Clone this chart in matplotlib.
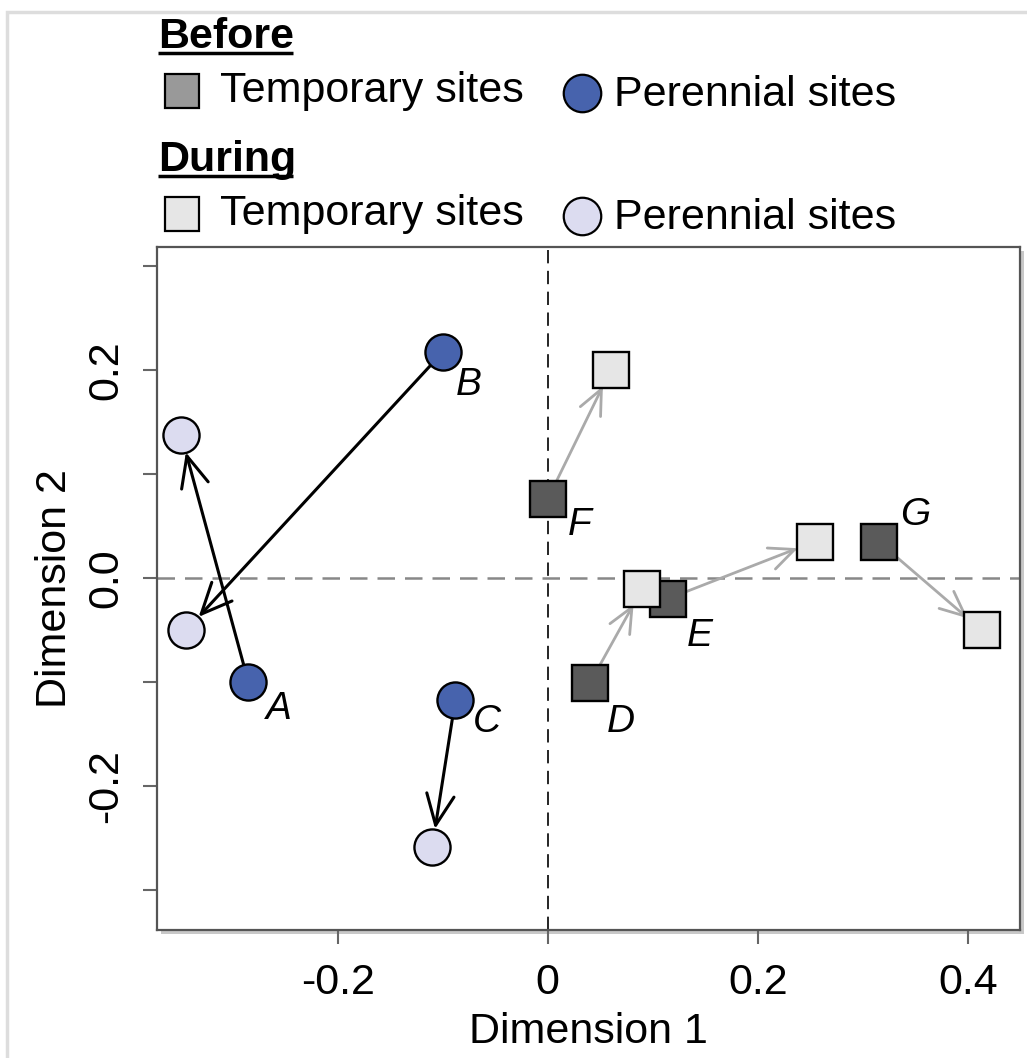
import matplotlib
matplotlib.use("Agg")
import matplotlib.pyplot as plt
from matplotlib.patches import Rectangle

plt.rcParams["font.family"] = ["Liberation Sans", "DejaVu Sans"]

sites = ["A", "B", "C", "D", "E", "F", "G"]
site_type = ["perennial", "perennial", "perennial",
             "temporary", "temporary", "temporary", "temporary"]
before_x = [-0.285, -0.100, -0.088, 0.040, 0.114, 0.000, 0.315]
before_y = [-0.100, 0.217, -0.117, -0.101, -0.020, 0.076, 0.035]
during_x = [-0.349, -0.344, -0.110, 0.090, 0.254, 0.060, 0.413]
during_y = [0.1375, -0.050, -0.258, -0.010, 0.035, 0.200, -0.050]

# label offsets (points) from the "before" marker
label_dx = [22, 19, 23, 22, 23, 23, 26]
label_dy = [-19, -24, -16, -28, -27, -19, 19]

col_before = {"perennial": "#4763ad", "temporary": "#5a5a5a"}
col_during = {"perennial": "#dcdcf0", "temporary": "#e6e6e6"}
col_arrow = {"perennial": "black", "temporary": "#aaaaaa"}
shape = {"perennial": "o", "temporary": "s"}

W, H = 1027, 1058
fig = plt.figure(figsize=(W / 100, H / 100), dpi=100)

# faint outer frame
fig.patches.append(Rectangle((7 / W, -0.05), 1.2, (H - 12) / H + 0.05,
                             transform=fig.transFigure, fill=False,
                             edgecolor="#dddddd", linewidth=2.5, zorder=-2))

# drop shadow of the plot box
fig.patches.append(Rectangle((161 / W, (H - 934) / H), (1024 - 161) / W, (934 - 251) / H,
                             transform=fig.transFigure, facecolor="#c8c8c8",
                             edgecolor="none", zorder=-1))

ax = fig.add_axes([157 / W, (H - 930) / H, (1020 - 157) / W, (930 - 247) / H])
ax.set_facecolor("white")
ax.set_xlim(-0.372, 0.4495)
ax.set_ylim(-0.338, 0.318)

ax.axvline(0, color="black", linestyle=(0, (8, 4.5)), linewidth=1.2, zorder=1)
ax.axhline(0, color="#888888", linestyle=(0, (7, 4)), linewidth=1.8, zorder=1)

for i in range(len(sites)):
    t = site_type[i]
    ms = 18 if t == "temporary" else 22
    ax.annotate("", xy=(during_x[i], during_y[i]), xytext=(before_x[i], before_y[i]),
                arrowprops=dict(arrowstyle="->,head_length=1.0,head_width=0.45",
                                mutation_scale=ms, color=col_arrow[t],
                                linewidth=2.0 if t == "temporary" else 2.2,
                                shrinkA=12, shrinkB=13),
                zorder=2)

for i in range(len(sites)):
    t = site_type[i]
    ax.plot(before_x[i], before_y[i], marker=shape[t], markersize=26,
            markerfacecolor=col_before[t], markeredgecolor="black",
            markeredgewidth=1.7, linestyle="none", zorder=3)
for i in range(len(sites)):
    t = site_type[i]
    ax.plot(during_x[i], during_y[i], marker=shape[t], markersize=26,
            markerfacecolor=col_during[t], markeredgecolor="black",
            markeredgewidth=1.7, linestyle="none", zorder=4)

for i in range(len(sites)):
    ax.annotate(sites[i], xy=(before_x[i], before_y[i]),
                xytext=(label_dx[i], label_dy[i]), textcoords="offset points",
                ha="center", va="center", fontsize=28, style="italic", zorder=5)

ax.set_xticks([-0.2, 0, 0.2, 0.4])
ax.set_xticklabels(["-0.2", "0", "0.2", "0.4"])
ax.set_yticks([-0.3, -0.2, -0.1, 0.0, 0.1, 0.2, 0.3])
ax.set_yticklabels(["", "-0.2", "", "0.0", "", "0.2", ""])
ax.tick_params(axis="x", length=10, width=1.5, color="#666666",
               labelsize=31, pad=14)
ax.tick_params(axis="y", length=10, width=1.5, color="#666666",
               labelsize=31, pad=12)
for lab in ax.get_yticklabels():
    lab.set_rotation(90)
    lab.set_va("center")
for sp in ax.spines.values():
    sp.set_color("#555555")
    sp.set_linewidth(1.6)

ax.set_xlabel("Dimension 1", fontsize=31, labelpad=6)
ax.set_ylabel("Dimension 2", fontsize=31, labelpad=8)

# legend block drawn in pixel space on top of the figure
lax = fig.add_axes([0, 0, 1, 1], zorder=10)
lax.set_xlim(0, W)
lax.set_ylim(H, 0)
lax.axis("off")

headers = ["Before", "During"]
header_y = [48, 171]
row_y = [91, 214]
for k in range(2):
    lax.text(158, header_y[k], headers[k], fontsize=31, fontweight="bold",
             ha="left", va="baseline")
    lax.plot([158, 293], [header_y[k] + 5, header_y[k] + 5], color="black",
             linewidth=2.5, solid_capstyle="butt")
    cols = col_before if k == 0 else col_during
    sq_col = "#999999" if k == 0 else cols["temporary"]
    lax.plot(182, row_y[k], marker="s", markersize=25, markerfacecolor=sq_col,
             markeredgecolor="black", markeredgewidth=1.6, linestyle="none")
    lax.text(220, row_y[k], "Temporary sites", fontsize=31, ha="left", va="center")
    lax.plot(582, row_y[k] + 2, marker="o", markersize=27,
             markerfacecolor=cols["perennial"], markeredgecolor="black",
             markeredgewidth=1.6, linestyle="none")
    lax.text(614, row_y[k] + 4, "Perennial sites", fontsize=31, ha="left", va="center")

fig.savefig("out.png", dpi=100)
